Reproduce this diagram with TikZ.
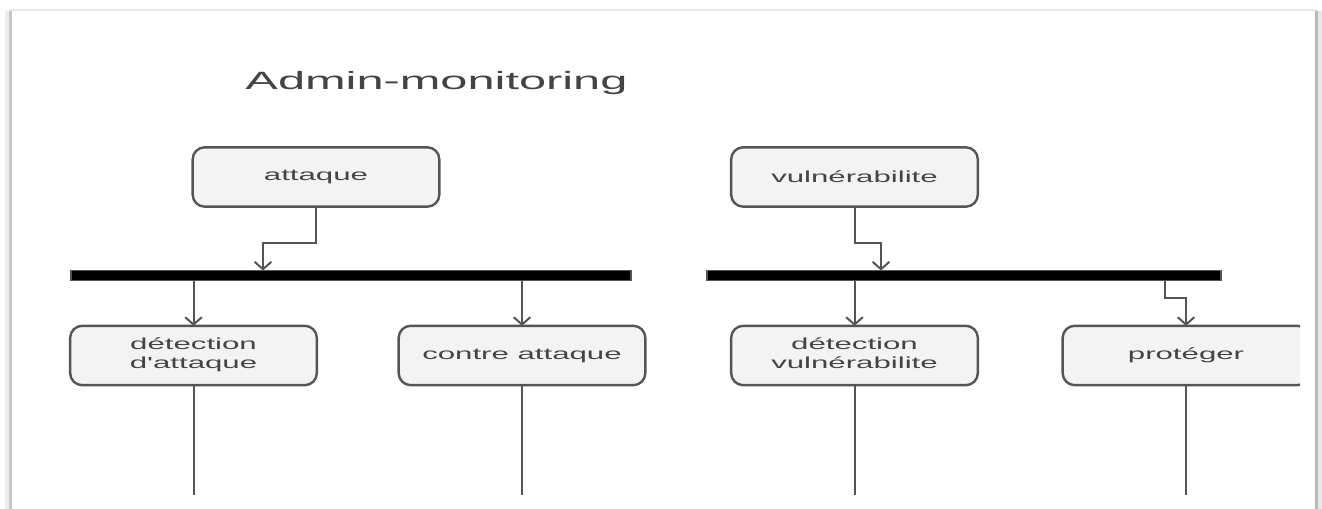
\documentclass[tikz,border=0pt]{standalone}
\usepackage{fontspec}
\setmainfont{Liberation Sans}[Ligatures=TeXOff]
\usetikzlibrary{arrows.meta}
\definecolor{inkgray}{HTML}{555555}
\definecolor{textgray}{HTML}{444444}
\definecolor{boxfill}{HTML}{F3F3F3}
\newcommand{\widetxt}[1]{\scalebox{1.95}[1]{#1}}
\tikzset{
  actbox/.style={draw=inkgray, line width=1.8pt, fill=boxfill, rounded corners=9pt,
    minimum width=185pt, minimum height=44.5pt, inner sep=0pt, outer sep=0pt,
    text=textgray, font=\fontsize{12pt}{14pt}\selectfont, align=center},
  forkbar/.style={draw=inkgray, line width=0.9pt, fill=black, minimum height=7.5pt,
    inner sep=0pt, outer sep=0pt},
  flow/.style={draw=inkgray, line width=1.5pt},
  arr/.style={flow, -{Straight Barb[length=5.5pt,width=12.5pt,line width=1.5pt]}},
}
\begin{document}
\begin{tikzpicture}[x=0.75pt, y=-0.75pt]
\useasboundingbox (0,0) rectangle (1322,509);
\fill[white] (0,0) rectangle (1322,509);

% page outline with a soft shadow on the sides
\draw[gray!18, line width=1.5pt] (9,10.5) -- (1317,10.5);
\draw[gray!14, line width=3pt] (7,11) -- (7,509);
\draw[gray!45, line width=2.5pt] (10.5,11) -- (10.5,509);
\draw[gray!55, line width=2.5pt] (1316.5,11) -- (1316.5,509);
\draw[gray!18, line width=3pt] (1320,11) -- (1320,509);

% title
\node[anchor=base, text=textgray, font=\fontsize{18.75pt}{22pt}\selectfont] (title) at (436.5,90) {\widetxt{Admin-monitoring}};

% top-level activities
\node[actbox] (att) at (316,177) {\widetxt{attaque}};
\node[actbox] (vul) at (854.5,177) {\widetxt{vulnérabilite}};

% fork bars
\node[forkbar, minimum width=420pt] (barL) at (351,275.5) {};
\node[forkbar, minimum width=385.5pt] (barR) at (964,275.5) {};

% second-level activities
\node[actbox] (detatt) at (193.5,355.5) {\widetxt{\begin{tabular}{@{}c@{}}détection\\d'attaque\end{tabular}}};
\node[actbox] (contre) at (522,355.5) {\widetxt{contre attaque}};
\node[actbox] (detvul) at (854.5,355.5) {\widetxt{\begin{tabular}{@{}c@{}}détection\\vulnérabilite\end{tabular}}};
\begin{scope}
  \clip (0,0) rectangle (1300,509);
  \node[actbox] (prot) at (1186,355.5) {\widetxt{protéger}};
\end{scope}

% bends of the stepped connectors
\coordinate (jL) at (263,243);
\coordinate (jR) at (881,243);
\coordinate (jP) at (1165,298);

% connectors into the fork bars
\draw[arr] (att.south) |- (jL) -- (jL |- barL.north);
\draw[arr] (vul.south) |- (jR) -- (jR |- barR.north);

% connectors out of the fork bars
\draw[arr] (detatt.north |- barL.south) -- (detatt.north);
\draw[arr] (contre.north |- barL.south) -- (contre.north);
\draw[arr] (detvul.north |- barR.south) -- (detvul.north);
\draw[arr] (jP |- barR.south) -- (jP) -| (prot.north);

% flows continuing below
\coordinate (e1) at (193.5,495);
\coordinate (e2) at (522,495);
\coordinate (e3) at (854.5,495);
\coordinate (e4) at (1186,495);
\draw[flow] (detatt.south) -- (e1);
\draw[flow] (contre.south) -- (e2);
\draw[flow] (detvul.south) -- (e3);
\draw[flow] (prot.south) -- (e4);
\end{tikzpicture}
\end{document}
